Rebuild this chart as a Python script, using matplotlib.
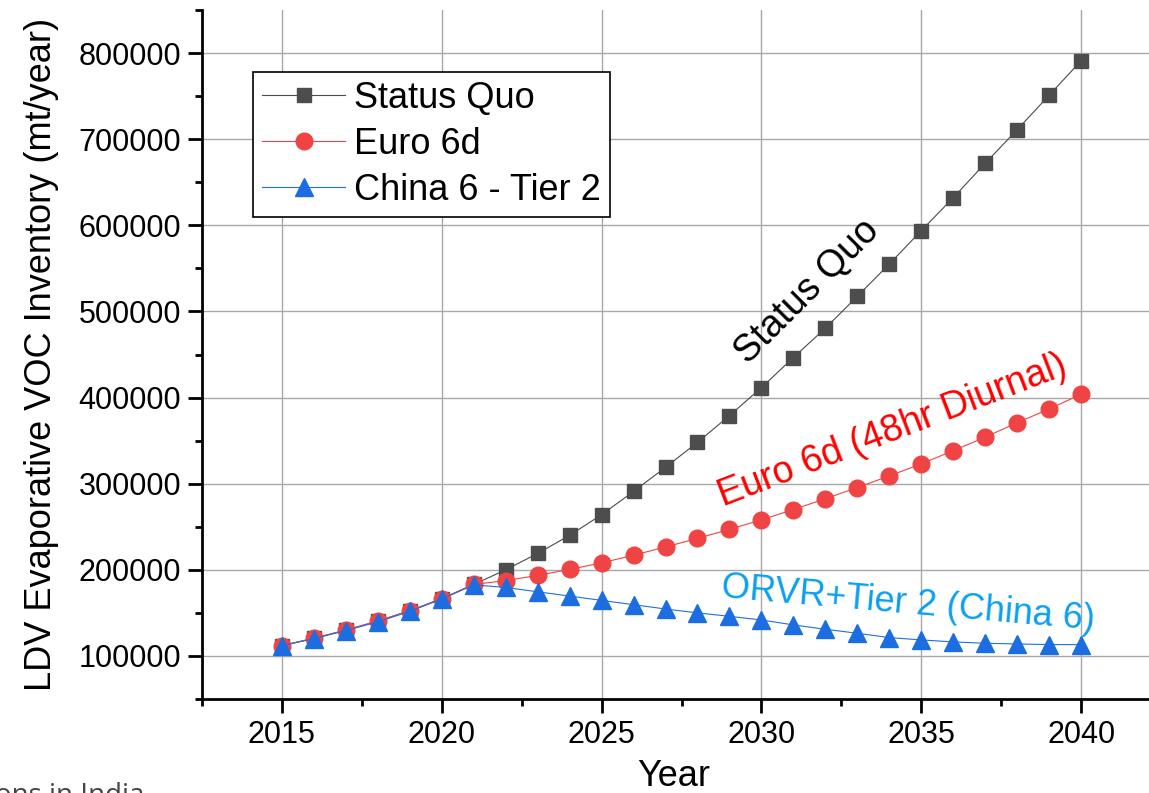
import matplotlib
matplotlib.use('Agg')
import matplotlib.pyplot as plt
from matplotlib.ticker import MultipleLocator

plt.rcParams['font.family'] = ['Liberation Sans', 'DejaVu Sans']

years = list(range(2015, 2041))

status_quo = [112000, 120500, 130000, 140500, 152500, 166500, 183000, 200000, 219000, 240000,
              264000, 291000, 319000, 348000, 379000, 411500, 446500, 480500, 517500, 555000,
              593800, 632000, 672000, 711000, 751000, 791000]

euro_6d = [112000, 120500, 130000, 140500, 152500, 166500, 183000, 187500, 193500, 200500,
           208000, 217000, 226500, 236500, 247000, 258000, 270000, 282500, 295500, 309000,
           323000, 338300, 354000, 370800, 386700, 403800]

china_6_tier2 = [112000, 120000, 129500, 139500, 151800, 166000, 182500, 179500, 174500, 169500,
                 164500, 159500, 154500, 150000, 146000, 141800, 136000, 131000, 126300, 121300,
                 118600, 116300, 114700, 113900, 113200, 113100]

series_names = ['Status Quo', 'Euro 6d', 'China 6 - Tier 2']

fig = plt.figure(figsize=(11.49, 7.93), dpi=100)
ax = fig.add_axes([202 / 1149, 1 - 699 / 793, (1161 - 202) / 1149, (699 - 10) / 793])

ax.plot(years, status_quo, color='#4a4a4a', lw=0.8, marker='s', markersize=10.5,
        markerfacecolor='#4d4d4d', markeredgecolor='#4d4d4d', label=series_names[0], zorder=3)
ax.plot(years, euro_6d, color='#f04444', lw=0.8, marker='o', markersize=12,
        markerfacecolor='#f04444', markeredgecolor='#f04444', label=series_names[1], zorder=4)
ax.plot(years, china_6_tier2, color='#1f6fe0', lw=0.8, marker='^', markersize=13.5,
        markerfacecolor='#1c6ee0', markeredgecolor='#1c6ee0', label=series_names[2], zorder=5)

ax.set_xlim(2012.5, 2042.5)
ax.set_ylim(50000, 850000)
ax.xaxis.set_major_locator(MultipleLocator(5))
ax.xaxis.set_minor_locator(MultipleLocator(2.5))
ax.yaxis.set_major_locator(MultipleLocator(100000))
ax.yaxis.set_minor_locator(MultipleLocator(50000))
ax.set_yticks(range(100000, 800001, 100000))

ax.grid(True, which='major', color='#a8a8a8', lw=1)
ax.set_axisbelow(True)
for side in ['top', 'right']:
    ax.spines[side].set_visible(False)
for side in ['left', 'bottom']:
    ax.spines[side].set_linewidth(2)

ax.tick_params(which='major', direction='out', length=10, width=2, labelsize=22, pad=5)
ax.tick_params(which='minor', direction='out', length=5, width=2)

ax.set_xlabel('Year', fontsize=26, labelpad=10)
ax.xaxis.set_label_coords(0.492, -0.087)
ax.set_ylabel('LDV Evaporative VOC Inventory (mt/year)', fontsize=26, labelpad=14)

leg = ax.legend(loc='upper left', bbox_to_anchor=(51 / 959, 1 - 62 / 689),
                fontsize=26, frameon=True, fancybox=False, framealpha=1, edgecolor='black',
                handlelength=2.3, handletextpad=0.25, borderpad=0.25, labelspacing=0.3,
                borderaxespad=0)
leg.get_frame().set_linewidth(1.2)

# curve labels drawn straight along each scenario
ax.text(2031.45, 523500, 'Status Quo', rotation=45, fontsize=27, color='black',
        ha='center', va='center', rotation_mode='anchor')
ax.text(2034.1, 361000, 'Euro 6d (48hr Diurnal)', rotation=21, fontsize=27, color='#ff0000',
        ha='center', va='center', rotation_mode='anchor')
ax.text(2034.6, 160500, 'ORVR+Tier 2 (China 6)', rotation=-5, fontsize=26, color='#0aa0f0',
        ha='center', va='center', rotation_mode='anchor')

fig.text(-0.004, 1 - 803 / 793, 'ons in India', fontsize=20, color='#444444',
         family=['Open Sans', 'DejaVu Sans'], ha='left', va='baseline')

fig.savefig('out.png', dpi=100)
